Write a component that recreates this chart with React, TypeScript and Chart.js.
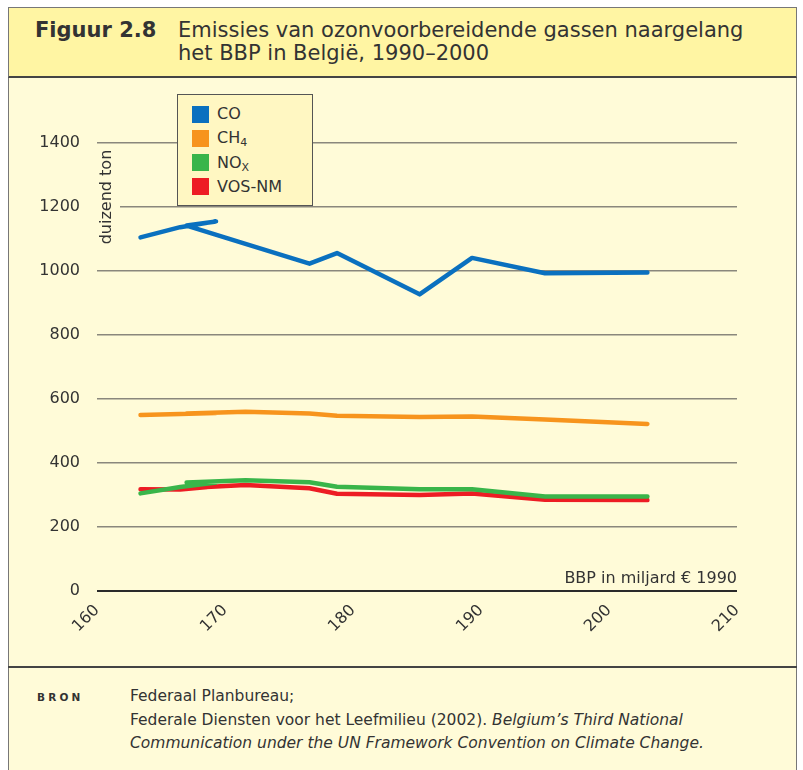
import React, { useEffect, useRef } from "react";
import { Chart, registerables } from "chart.js";

Chart.register(...registerables);

const FONT = '"DejaVu Sans", Verdana, sans-serif';
const TEXT = "#333333";

// BBP (miljard € 1990) per jaar, 1990–2000
const years = [1990, 1991, 1992, 1993, 1994, 1995, 1996, 1997, 1998, 1999, 2000];
const gdp = [163.4, 166.5, 169.3, 167.0, 171.6, 176.6, 178.75, 185.2, 189.3, 195.0, 203.0];

// emissies (duizend ton)
const coValues = [1105, 1137, 1155, 1142, 1085, 1023, 1056, 927, 1041, 993, 995];
const ch4Values = [550, 553, 556, 555, 560, 555, 548, 544, 545, 536, 522];
const noxValues = [305, 325, 339, 339, 346, 340, 326, 318, 318, 295, 295];
const vosValues = [318, 317, 327, 322, 331, 321, 304, 300, 305, 285, 284];

const seriesLabels = ["CO", "CH4", "NOx", "VOS-NM"];
const seriesColors = ["#0a70bf", "#f7941d", "#39b54a", "#ed1c24"];

const xMin = 160;
const xMax = 210;
const xStep = 10;
const yMin = 0;
const yMax = 1400;
const yStep = 200;

const yAxisTitle = "duizend ton";
const xAxisTitle = "BBP in miljard € 1990";

const toPoints = (vals: number[]) => vals.map((v, i) => ({ x: gdp[i], y: v }));

const CHART_BG = "#fffbd8";
const HEADER_BG = "#fff5a3";
const LEGEND_BG = "#fff7c2";

const annotations = {
  id: "annotations",
  afterDraw(chart: any) {
    const { ctx, chartArea } = chart;
    ctx.save();
    // y-axis title with background that interrupts grid line
    ctx.fillStyle = CHART_BG;
    ctx.fillRect(chartArea.left - 1, chartArea.top + 8, 24, 96);
    ctx.translate(chartArea.left + 10, chartArea.top + 54);
    ctx.rotate(-Math.PI / 2);
    ctx.fillStyle = TEXT;
    ctx.font = `16px ${FONT}`;
    ctx.textAlign = "center";
    ctx.textBaseline = "middle";
    ctx.fillText(yAxisTitle, 0, 0);
    ctx.restore();

    ctx.save();
    ctx.fillStyle = TEXT;
    ctx.font = `16px ${FONT}`;
    ctx.textAlign = "right";
    ctx.textBaseline = "alphabetic";
    ctx.fillText(xAxisTitle, chartArea.right, chartArea.bottom - 8);
    ctx.restore();
  },
};

function ChartCanvas() {
  const ref = useRef<HTMLCanvasElement | null>(null);
  useEffect(() => {
    if (!ref.current) return;
    const valueSets = [coValues, ch4Values, noxValues, vosValues];
    const chart = new Chart(ref.current, {
      type: "line",
      data: {
        datasets: valueSets.map((vals, i) => ({
          label: seriesLabels[i],
          data: toPoints(vals),
          borderColor: seriesColors[i],
          backgroundColor: seriesColors[i],
          borderWidth: 4.5,
          pointRadius: 0,
          tension: 0,
          borderCapStyle: "round",
          borderJoinStyle: "round",
          fill: false,
          order: i,
        })),
      },
      options: {
        responsive: false,
        animation: false,
        devicePixelRatio: 1,
        layout: { padding: { top: 63, right: 59, left: 0, bottom: 0 } },
        plugins: {
          legend: { display: false },
          tooltip: { enabled: false },
        },
        scales: {
          x: {
            type: "linear",
            min: xMin,
            max: xMax,
            grid: { display: false },
            border: { display: false },
            afterFit: (s: any) => {
              s.height = 77;
            },
            ticks: {
              stepSize: xStep,
              autoSkip: false,
              minRotation: 45,
              maxRotation: 45,
              padding: 2,
              color: TEXT,
              font: { family: FONT, size: 16 },
              callback: (v: any) => String(v),
            },
          },
          y: {
            min: yMin,
            max: yMax,
            border: { display: false },
            afterFit: (s: any) => {
              s.width = 88;
            },
            grid: {
              drawTicks: false,
              color: (c: any) => (c.tick && c.tick.value === 0 ? "#2a2a2a" : "#8a877c"),
              lineWidth: (c: any) => (c.tick && c.tick.value === 0 ? 2 : 1.5),
            },
            ticks: {
              stepSize: yStep,
              padding: 17,
              color: TEXT,
              font: { family: FONT, size: 16 },
              callback: (v: any) => String(v),
            },
          },
        },
      },
      plugins: [annotations],
    } as any);
    return () => chart.destroy();
  }, []);
  return <canvas ref={ref} width={787} height={588} style={{ position: "absolute", left: 9, top: 80, width: 787, height: 588 }} />;
}

function Sub({ base, sub }: { base: string; sub: string }) {
  return (
    <span>
      {base}
      <sub style={{ fontSize: 11, verticalAlign: "-3px", lineHeight: 0 }}>{sub}</sub>
    </span>
  );
}

export default function App() {
  const legendItems = [
    <span>CO</span>,
    <Sub base="CH" sub="4" />,
    <Sub base="NO" sub="X" />,
    <span>VOS-NM</span>,
  ];
  return (
    <div style={{ position: "absolute", left: 0, top: 0, width: 803, height: 770, overflow: "hidden", fontFamily: FONT, color: TEXT }}>
      {/* frame */}
      <div style={{ position: "absolute", left: 8, top: 7, width: 789, height: 780, background: CHART_BG, borderLeft: "1.5px solid #777", borderRight: "1.5px solid #777", borderTop: "1px solid #888", boxSizing: "border-box" }} />
      {/* header */}
      <div style={{ position: "absolute", left: 8, top: 7, width: 789, height: 71, background: HEADER_BG, border: "1.5px solid #777", borderBottom: "2px solid #444", boxSizing: "border-box" }} />
      <div style={{ position: "absolute", left: 35, top: 19, fontSize: 21, fontWeight: "bold", lineHeight: "23px", whiteSpace: "nowrap" }}>Figuur 2.8</div>
      <div style={{ position: "absolute", left: 178, top: 19, fontSize: 21, lineHeight: "23px", whiteSpace: "nowrap" }}>
        Emissies van ozonvoorbereidende gassen naargelang
        <br />
        het BBP in België, 1990–2000
      </div>
      <ChartCanvas />
      {/* legend */}
      <div style={{ position: "absolute", left: 177, top: 94, width: 136, height: 112, background: LEGEND_BG, border: "1.5px solid #555", boxSizing: "border-box" }}>
        {legendItems.map((item, i) => (
          <div key={i} style={{ position: "absolute", left: 14, top: 10 + i * 24.3, height: 18, display: "flex", alignItems: "center", whiteSpace: "nowrap" }}>
            <span style={{ display: "inline-block", width: 17, height: 17, background: seriesColors[i], marginRight: 8 }} />
            <span style={{ fontSize: 16, lineHeight: "18px" }}>{item}</span>
          </div>
        ))}
      </div>
      {/* divider */}
      <div style={{ position: "absolute", left: 8, top: 666, width: 789, height: 2, background: "#444" }} />
      {/* source */}
      <div style={{ position: "absolute", left: 37, top: 690, fontSize: 10.5, fontWeight: "bold", letterSpacing: "3.2px", lineHeight: "14px" }}>BRON</div>
      <div style={{ position: "absolute", left: 130, top: 685, fontSize: 15.5, lineHeight: "23.5px", whiteSpace: "nowrap" }}>
        Federaal Planbureau;
        <br />
        Federale Diensten voor het Leefmilieu (2002). <i>Belgium’s Third National</i>
        <br />
        <i>Communication under the UN Framework Convention on Climate Change.</i>
      </div>
    </div>
  );
}
